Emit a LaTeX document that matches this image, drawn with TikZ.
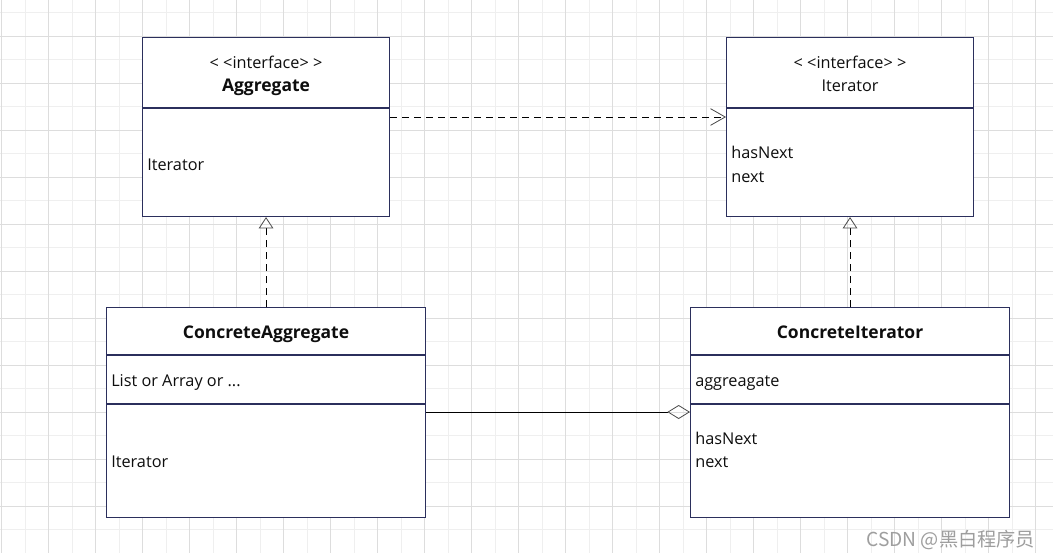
\documentclass[tikz,border=0pt]{standalone}
\usepackage{fontspec}
\setmainfont{Open Sans}
\newfontfamily\cjkfont{Noto Sans CJK SC}
\usetikzlibrary{arrows.meta}

\definecolor{boxline}{HTML}{2B2F5C}
\definecolor{gridminor}{HTML}{EFEFEF}
\definecolor{gridmajor}{HTML}{DDDDDD}
\definecolor{txtcol}{HTML}{0E0E0E}
\definecolor{tipcol}{HTML}{4A4A4A}

\begin{document}
\begin{tikzpicture}[x=0.75pt,y=0.75pt,yscale=-1,xscale=1,
  classbox/.style={draw=boxline, line width=0.8pt, fill=white, rectangle, inner sep=0pt, anchor=north west},
  divider/.style={draw=boxline, line width=0.8pt},
  member/.style={anchor=base west, inner sep=0pt, text=txtcol, font=\fontsize{12.2}{14}\selectfont},
  classname/.style={anchor=base, inner sep=0pt, text=txtcol, font=\fontsize{13.1}{15}\selectfont\bfseries},
  stereo/.style={anchor=base, inner sep=0pt, text=txtcol, font=\fontsize{12.2}{14}\selectfont},
  dep/.style={draw=black, line width=0.7pt, dash pattern=on 5.5pt off 3.5pt},
]
\useasboundingbox (0,0) rectangle (1053,553);

% grid background
\fill[white] (0,0) rectangle (1053,553);
\foreach \gx in {25.2,72.2,...,1053} \draw[gridminor, line width=0.7pt] (\gx,0) -- (\gx,553);
\foreach \gy in {12.8,59.8,...,553} \draw[gridminor, line width=0.7pt] (0,\gy) -- (1053,\gy);
\foreach \gx in {1.7,48.7,...,1053} \draw[gridmajor, line width=0.7pt] (\gx,0) -- (\gx,553);
\foreach \gy in {36.3,83.3,...,553} \draw[gridmajor, line width=0.7pt] (0,\gy) -- (1053,\gy);

% class boxes
\node[classbox, minimum width=247*0.75pt, minimum height=179*0.75pt] (agg) at (142,37) {};
\node[classbox, minimum width=247*0.75pt, minimum height=179*0.75pt] (itf) at (726,37) {};
\node[classbox, minimum width=319*0.75pt, minimum height=210*0.75pt] (cagg) at (106,307) {};
\node[classbox, minimum width=319*0.75pt, minimum height=210*0.75pt] (citer) at (690,307) {};

% compartments
\draw[divider] (agg.west |- 0,108) -- (agg.east |- 0,108);
\draw[divider] (itf.west |- 0,108) -- (itf.east |- 0,108);
\draw[divider] (cagg.west |- 0,355) -- (cagg.east |- 0,355);
\draw[divider] (cagg.west |- 0,404) -- (cagg.east |- 0,404);
\draw[divider] (citer.west |- 0,355) -- (citer.east |- 0,355);
\draw[divider] (citer.west |- 0,404) -- (citer.east |- 0,404);

% Aggregate
\node[stereo] (aggst) at (agg.north |- 0,68) {< <interface> >};
\node[classname] (aggnm) at (agg.north |- 0,91) {Aggregate};
\node[member] (aggop) at (147,170) {Iterator};

% Iterator
\node[stereo] (itfst) at (itf.north |- 0,68) {< <interface> >};
\node[stereo] (itfnm) at (itf.north |- 0,91) {Iterator};
\node[member] (itfop1) at (731,158) {hasNext};
\node[member] (itfop2) at (731,182) {next};

% ConcreteAggregate
\node[classname] (caggnm) at (cagg.north |- 0,338) {ConcreteAggregate};
\node[member] (caggat) at (111,386) {List or Array or ...};
\node[member] (caggop) at (111,467) {Iterator};

% ConcreteIterator
\node[classname] (citernm) at (citer.north |- 0,338) {ConcreteIterator};
\node[member] (citerat) at (695,386) {aggreagate};
\node[member] (citerop1) at (695,444) {hasNext};
\node[member] (citerop2) at (695,467) {next};

% relations
\draw[dep, -{Straight Barb[length=11pt,width=12.5pt,color=tipcol,line width=0.6pt]}] (agg.east |- 0,117) -- (itf.west |- 0,117);
\draw[dep, -{Triangle[open,length=8.5pt,width=11pt,color=tipcol,line width=0.6pt]}] (cagg.north) -- (agg.south);
\draw[dep, -{Triangle[open,length=8.5pt,width=11pt,color=tipcol,line width=0.6pt]}] (citer.north) -- (itf.south);
\draw[black, line width=0.7pt, -{Diamond[open,length=17pt,width=10.5pt,color=tipcol,line width=0.6pt]}] (cagg.east |- 0,412) -- (citer.west |- 0,412);

% watermark
\node[anchor=base west, inner sep=0pt, text=black!38, font=\cjkfont\fontsize{14.4}{16}\selectfont] (mark) at (866,546) {CSDN @黑白程序员};
\end{tikzpicture}
\end{document}
